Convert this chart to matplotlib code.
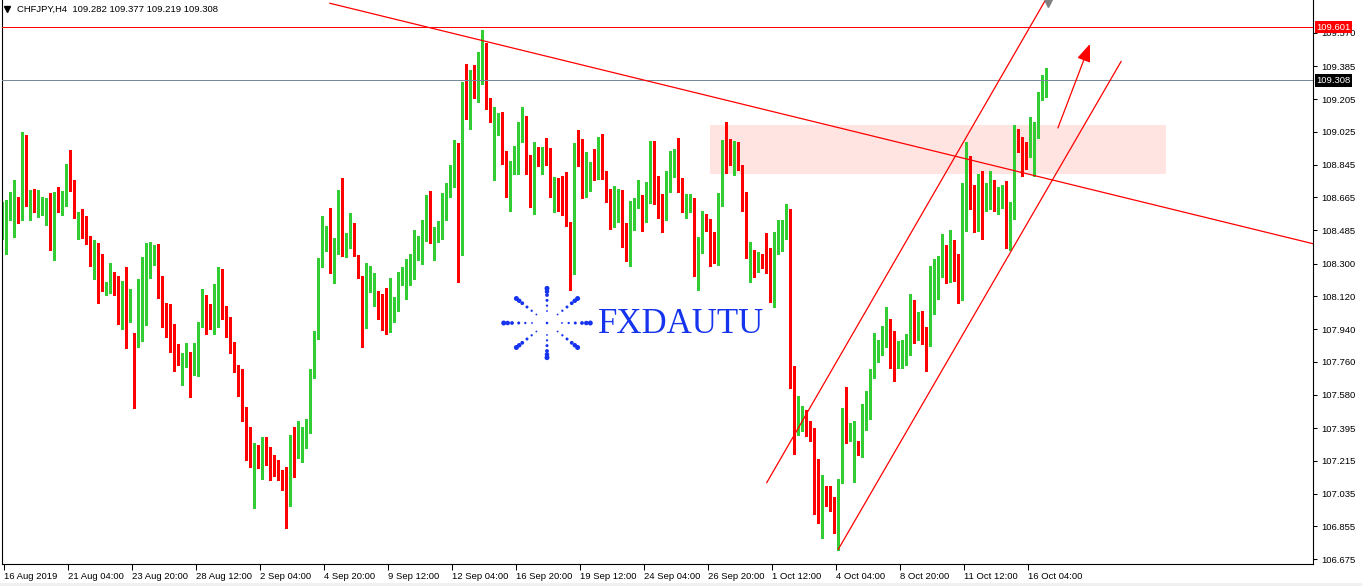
import matplotlib
matplotlib.use('Agg')
import matplotlib.pyplot as plt
import matplotlib.transforms as mtransforms
from matplotlib.patches import Rectangle
import numpy as np

header_text = "CHFJPY,H4  109.282 109.377 109.219 109.308"

opens = [
    108.491,108.507,108.549,108.502,108.623,108.557,108.958,108.645,108.661,108.612,
    108.635,108.635,108.645,108.419,108.650,108.601,108.628,108.722,108.716,108.558,
    108.562,108.474,108.452,108.309,108.320,108.304,108.150,108.172,108.254,108.199,
    107.985,108.166,108.062,107.919,107.864,107.963,108.216,108.265,108.320,108.331,
    108.172,108.001,107.913,107.897,107.858,107.715,107.748,107.781,107.748,107.759,
    107.963,108.095,108.062,108.003,108.067,108.139,108.023,107.941,107.847,107.726,
    107.638,107.501,107.396,107.077,107.231,107.198,107.264,107.253,107.215,107.149,
    107.132,107.116,107.000,107.341,107.242,107.314,107.319,107.413,107.688,107.897,
    108.315,108.430,108.436,108.287,108.414,108.634,108.397,108.447,108.502,108.348,
    108.232,107.996,108.177,108.084,108.106,108.062,107.996,107.963,108.062,108.073,
    108.216,108.227,108.232,108.326,108.359,108.381,108.480,108.645,108.430,108.469,
    108.491,108.590,108.711,108.777,108.914,108.397,109.244,109.112,109.360,109.233,
    109.338,109.481,109.173,108.771,109.057,109.079,108.865,108.766,108.799,108.832,
    109.074,109.107,108.804,108.711,108.903,108.848,108.892,108.881,108.678,108.760,
    108.755,108.722,108.529,108.260,108.953,108.887,108.672,108.738,108.821,108.771,
    108.903,108.810,108.683,108.540,108.579,108.656,108.469,108.452,108.601,108.623,
    108.672,108.573,108.656,108.958,108.705,108.601,108.546,108.727,108.881,108.920,
    108.727,108.617,108.628,108.661,108.304,108.364,108.535,108.496,108.469,108.337,
    108.683,108.931,108.914,108.837,108.881,108.843,108.650,108.337,108.370,108.276,
    108.331,108.320,108.315,108.304,108.364,108.430,108.507,108.546,107.688,107.363,
    107.435,107.490,107.407,107.396,107.209,106.940,107.044,106.989,106.967,106.863,
    107.094,107.495,107.385,107.187,107.292,107.286,107.468,107.589,107.699,107.781,
    107.836,107.880,107.990,107.902,107.726,107.776,107.787,107.809,107.974,107.935,
    108.007,107.908,107.864,108.034,108.265,108.331,108.370,108.265,108.419,108.238,
    108.111,108.513,108.804,108.579,108.568,108.760,108.656,108.656,108.689,108.667,
    108.667,108.689,108.469,108.612,109.002,108.975,108.953,108.909,109.013,109.041,
    109.222,109.282,
]

highs = [
    108.641,108.650,108.696,108.760,108.667,109.024,109.008,108.705,108.711,108.705,
    108.667,108.661,108.689,108.694,108.722,108.700,108.848,108.925,108.760,108.584,
    108.601,108.562,108.452,108.430,108.414,108.353,108.199,108.304,108.254,108.232,
    108.205,108.282,108.161,107.919,108.216,108.337,108.414,108.419,108.403,108.408,
    108.232,108.084,108.078,107.968,107.858,107.809,107.864,107.814,107.864,107.979,
    108.161,108.128,108.078,108.188,108.282,108.271,108.067,108.007,107.869,107.743,
    107.721,107.512,107.402,107.314,107.303,107.347,107.347,107.292,107.248,107.220,
    107.165,107.182,107.358,107.402,107.435,107.402,107.446,107.721,107.930,108.331,
    108.562,108.507,108.606,108.441,108.705,108.770,108.469,108.579,108.524,108.348,
    108.232,108.304,108.287,108.249,108.150,108.133,108.166,108.221,108.117,108.254,
    108.282,108.326,108.353,108.485,108.452,108.540,108.678,108.700,108.502,108.535,
    108.689,108.744,108.843,108.980,108.964,109.299,109.398,109.365,109.393,109.464,
    109.585,109.514,109.211,109.162,109.129,109.134,108.920,108.865,108.947,109.079,
    109.162,109.112,108.898,108.969,108.942,108.942,108.991,108.936,108.777,108.771,
    108.782,108.804,108.529,108.964,109.035,108.986,108.914,108.859,108.931,108.997,
    109.013,108.810,108.711,108.727,108.711,108.705,108.524,108.645,108.661,108.760,
    108.678,108.749,108.975,108.975,108.782,108.683,108.810,108.920,108.931,108.991,
    108.771,108.683,108.683,108.661,108.447,108.590,108.573,108.546,108.474,108.689,
    108.980,109.079,108.986,108.975,108.969,108.843,108.694,108.419,108.375,108.364,
    108.353,108.469,108.386,108.474,108.540,108.540,108.628,108.601,107.737,107.572,
    107.517,107.495,107.435,107.396,107.226,107.138,107.077,107.077,107.017,107.116,
    107.506,107.622,107.424,107.435,107.325,107.528,107.600,107.721,107.919,107.880,
    107.957,108.062,107.996,107.930,107.875,107.880,107.913,108.133,108.100,108.034,
    108.040,107.952,108.287,108.326,108.342,108.463,108.403,108.485,108.430,108.353,
    108.744,108.969,108.892,108.733,108.793,108.810,108.744,108.810,108.760,108.722,
    108.733,108.755,108.639,109.063,109.041,108.997,108.969,109.107,109.079,109.244,
    109.338,109.377,
]

lows = [
    108.436,108.353,108.540,108.447,108.524,108.540,108.617,108.540,108.584,108.557,
    108.568,108.513,108.375,108.320,108.584,108.568,108.617,108.700,108.551,108.436,
    108.441,108.408,108.287,108.216,108.084,108.150,108.128,108.139,108.128,107.968,
    107.941,107.836,107.979,107.506,107.842,107.875,107.963,108.221,108.293,108.111,
    107.952,107.897,107.814,107.710,107.743,107.633,107.732,107.567,107.688,107.682,
    107.952,107.913,107.941,107.913,107.952,107.996,107.897,107.809,107.704,107.572,
    107.435,107.220,107.182,106.956,107.176,107.116,107.193,107.110,107.132,107.110,
    107.055,106.846,106.967,107.127,107.231,107.209,107.286,107.369,107.671,107.886,
    108.282,108.370,108.249,108.194,108.353,108.342,108.337,108.386,108.342,108.221,
    107.842,107.946,108.144,108.067,107.996,107.935,107.913,107.924,107.979,108.040,
    108.183,108.106,108.183,108.216,108.320,108.298,108.425,108.414,108.320,108.419,
    108.436,108.540,108.667,108.722,108.199,108.348,109.096,109.041,109.211,109.189,
    109.288,109.151,109.079,108.760,109.008,108.848,108.667,108.590,108.793,108.793,
    108.969,108.793,108.612,108.573,108.837,108.793,108.843,108.667,108.584,108.590,
    108.568,108.507,108.155,108.243,108.837,108.661,108.667,108.700,108.760,108.766,
    108.766,108.639,108.491,108.502,108.529,108.392,108.315,108.287,108.485,108.606,
    108.480,108.529,108.634,108.628,108.551,108.474,108.540,108.694,108.777,108.694,
    108.584,108.551,108.584,108.232,108.155,108.359,108.480,108.287,108.304,108.293,
    108.617,108.799,108.843,108.788,108.815,108.590,108.331,108.199,108.227,108.254,
    108.276,108.249,108.089,108.062,108.353,108.370,108.436,107.616,107.253,107.358,
    107.380,107.352,107.325,106.923,106.874,106.792,106.967,106.940,106.819,106.726,
    107.094,107.314,107.325,107.099,107.248,107.237,107.385,107.446,107.671,107.759,
    107.798,107.842,107.726,107.655,107.726,107.726,107.743,107.798,107.864,107.880,
    107.858,107.710,107.847,108.023,108.106,108.227,108.194,108.199,108.205,108.084,
    108.100,108.480,108.601,108.474,108.480,108.436,108.590,108.601,108.590,108.573,
    108.606,108.386,108.375,108.546,108.914,108.782,108.821,108.887,108.782,108.991,
    109.200,109.219,
]

closes = [
    108.518,108.557,108.690,108.623,108.557,108.964,108.645,108.661,108.617,108.639,
    108.641,108.646,108.419,108.645,108.628,108.628,108.722,108.711,108.557,108.562,
    108.474,108.447,108.315,108.320,108.298,108.150,108.194,108.254,108.194,107.985,
    108.166,108.067,108.106,107.864,107.968,108.216,108.265,108.326,108.375,108.161,
    108.001,107.913,107.891,107.853,107.765,107.754,107.781,107.748,107.765,107.968,
    108.095,108.067,108.003,108.067,108.139,108.019,107.942,107.843,107.721,107.633,
    107.495,107.391,107.303,107.231,107.198,107.264,107.248,107.209,107.160,107.132,
    107.110,107.000,107.336,107.242,107.358,107.325,107.418,107.693,107.902,108.320,
    108.463,108.436,108.287,108.419,108.634,108.397,108.458,108.496,108.348,108.227,
    107.996,108.188,108.238,108.111,108.056,107.990,107.963,108.073,108.073,108.221,
    108.232,108.238,108.331,108.364,108.408,108.491,108.645,108.430,108.474,108.496,
    108.612,108.716,108.782,108.909,108.397,109.244,109.167,109.360,109.233,109.338,
    109.481,109.167,109.162,109.063,109.079,108.859,108.766,108.804,108.947,109.079,
    109.107,108.804,108.711,108.903,108.848,108.892,108.876,108.678,108.760,108.744,
    108.705,108.518,108.260,108.953,108.881,108.678,108.804,108.826,108.771,108.903,
    108.804,108.678,108.529,108.584,108.661,108.463,108.447,108.606,108.645,108.672,
    108.573,108.661,108.958,108.700,108.628,108.546,108.738,108.887,108.920,108.722,
    108.590,108.639,108.661,108.293,108.370,108.535,108.507,108.469,108.337,108.689,
    108.931,108.909,108.898,108.881,108.837,108.645,108.342,108.370,108.265,108.331,
    108.309,108.309,108.304,108.370,108.485,108.513,108.540,107.677,107.363,107.435,
    107.495,107.402,107.391,107.204,106.940,107.044,107.000,106.962,106.863,107.105,
    107.501,107.385,107.396,107.292,107.286,107.473,107.589,107.704,107.809,107.842,
    107.886,107.990,107.886,107.732,107.803,107.792,107.814,107.974,107.935,108.007,
    107.902,107.864,108.040,108.265,108.337,108.370,108.282,108.419,108.227,108.111,
    108.518,108.804,108.744,108.568,108.760,108.656,108.683,108.689,108.672,108.672,
    108.689,108.469,108.617,108.997,108.980,108.953,108.903,109.019,109.046,109.228,
    109.316,109.308,
]

xtick_positions = [0.3, 16.3, 32.3, 48.3, 64.3, 80.3, 96.3, 112.3, 128.3, 144.3,
                   160.3, 176.3, 192.3, 208.3, 224.3, 240.3, 256.3]
xtick_labels = ['16 Aug 2019', '21 Aug 04:00', '23 Aug 20:00', '28 Aug 12:00',
                '2 Sep 04:00', '4 Sep 20:00', '9 Sep 12:00', '12 Sep 04:00',
                '16 Sep 20:00', '19 Sep 12:00', '24 Sep 04:00', '26 Sep 20:00',
                '1 Oct 12:00', '4 Oct 04:00', '8 Oct 20:00', '11 Oct 12:00',
                '16 Oct 04:00']
ytick_values = [109.570, 109.385, 109.205, 109.025, 108.845, 108.665, 108.485,
                108.300, 108.120, 107.940, 107.760, 107.580, 107.395, 107.215,
                107.035, 106.855, 106.675]

resistance_level = 109.601
last_price = 109.308
zone_x = [176.9, 290.9]
zone_y = [108.795, 109.0625]
trend_pts = [(81.9, 109.732), (252.7, 108.813)]
upper_channel = [(191.1, 107.095), (260.8, 109.75)]
lower_channel = [(209.0, 106.729), (279.7, 109.412)]
arrow_pts = [(263.9, 109.046), (271.9, 109.508)]

assert len(opens) == len(highs) == len(lows) == len(closes)

W, H = 1362, 586
fig = plt.figure(figsize=(W / 100, H / 100), dpi=100)
fig.patch.set_facecolor('white')
ax = fig.add_axes([2 / W, 22 / H, 1311 / W, 564 / H])
ax.set_facecolor('white')
XMIN, XMAX = -0.075, 327.675
ax.set_xlim(XMIN, XMAX)
ax.set_ylim(106.648, 109.75)

o = np.array(opens); h = np.array(highs); l = np.array(lows); c = np.array(closes)
x = np.arange(len(o))
bull = c >= o
cols = np.where(bull, '#32CD32', '#FF0000')

# zone
ax.add_patch(Rectangle((zone_x[0], zone_y[0]), zone_x[1] - zone_x[0], zone_y[1] - zone_y[0],
                       facecolor='#FFE4E1', edgecolor='none', zorder=0.5))

# wicks and bodies
ax.vlines(x, l, h, colors=cols, linewidth=0.75, antialiased=False, zorder=2)
bottoms = np.minimum(o, c)
heights = np.maximum(np.abs(c - o), 0.0055)
ax.bar(x, heights, bottom=bottoms, width=0.75, color=cols, linewidth=0,
       antialiased=False, zorder=2.1)

# horizontal lines
ax.axhline(resistance_level, color='#FF0000', lw=0.6, antialiased=False, zorder=3)
ax.axhline(last_price, color='#778899', lw=0.6, antialiased=False, zorder=3)

def extend(p0, p1, xe):
    s = (p1[1] - p0[1]) / (p1[0] - p0[0])
    return [p0[0], xe], [p0[1], p0[1] + s * (xe - p0[0])]

tx, ty = extend(trend_pts[0], trend_pts[1], XMAX)
ax.plot(tx, ty, color='#FF0000', lw=0.9, zorder=3)
ux, uy = extend(upper_channel[0], upper_channel[1], 266)
ax.plot(ux, uy, color='#FF0000', lw=0.9, zorder=3)
ax.plot([lower_channel[0][0], lower_channel[1][0]],
        [lower_channel[0][1], lower_channel[1][1]], color='#FF0000', lw=0.9, zorder=3)

ax.annotate('', xy=arrow_pts[1], xytext=arrow_pts[0],
            arrowprops=dict(arrowstyle='-|>,head_length=0.9,head_width=0.35',
                            color='#FF0000', lw=0.9, mutation_scale=12,
                            shrinkA=0, shrinkB=0), zorder=4)

# shift marker at top
ax.plot([261.4], [109.735], marker='v', color='#808080', markersize=6,
        clip_on=False, zorder=5)

# axes styling
ax.spines['top'].set_visible(False)
for s in ['left', 'right', 'bottom']:
    ax.spines[s].set_color('black')
    ax.spines[s].set_linewidth(0.8)

ax.yaxis.tick_right()
ax.set_yticks(ytick_values)
ax.set_yticklabels(['%.3f' % v for v in ytick_values])
ax.tick_params(axis='y', length=3, width=0.75, pad=3, labelsize=6.8,
               direction='out', colors='black')
ax.set_xticks(xtick_positions)
ax.set_xticklabels(xtick_labels)
ax.tick_params(axis='x', length=4.5, width=0.75, pad=1.5, labelsize=6.8,
               direction='out', colors='black')
for lbl in ax.get_xticklabels():
    lbl.set_horizontalalignment('left')
    lbl.set_family('Liberation Sans')
for lbl in ax.get_yticklabels():
    lbl.set_family('Liberation Sans')

trans = mtransforms.blended_transform_factory(ax.transAxes, ax.transData)
ax.text(1.0025, resistance_level, '%.3f' % resistance_level, transform=trans,
        ha='left', va='center', fontsize=6.8, family='Liberation Sans', color='white',
        bbox=dict(boxstyle='square,pad=0.18', fc='#FF0000', ec='none'),
        clip_on=False, zorder=10)
ax.text(1.0025, last_price, '%.3f' % last_price, transform=trans,
        ha='left', va='center', fontsize=6.8, family='Liberation Sans', color='white',
        bbox=dict(boxstyle='square,pad=0.18', fc='black', ec='none'),
        clip_on=False, zorder=10)

# overlay in pixel space for header and watermark
ov = fig.add_axes([0, 0, 1, 1], facecolor='none')
ov.set_xlim(0, W)
ov.set_ylim(H, 0)
ov.axis('off')

ov.plot([7], [9], marker='v', color='black', markersize=4.5)
ov.text(17, 9.5, header_text, fontsize=6.8, family='Liberation Sans',
        color='black', ha='left', va='center')

blue = '#1633ee'
cx, cy = 547, 323
radii = [15, 21.7, 28.3, 35, 39.3, 43.3]
dsz = [1.8, 2.3, 3.0, 3.8, 4.5, 5.0]
px, py, ps = [cx], [cy], [(2.6 * 0.72) ** 2]
for k in range(8):
    a = np.deg2rad(45 * k)
    for r, d in zip(radii, dsz):
        px.append(cx + r * np.cos(a))
        py.append(cy + 0.8 * r * np.sin(a))
        ps.append((d * 0.72) ** 2)
ov.scatter(px, py, s=ps, color=blue, linewidths=0)
ov.text(598, 333, 'FXDAUTU', fontsize=25, family='Liberation Serif',
        color=blue, ha='left', va='baseline')

fig.patches.append(Rectangle((0, 0), 1, 3 / H, transform=fig.transFigure,
                             facecolor='#f0f0f0', edgecolor='none'))

fig.savefig('out.png', dpi=100, facecolor='white')
